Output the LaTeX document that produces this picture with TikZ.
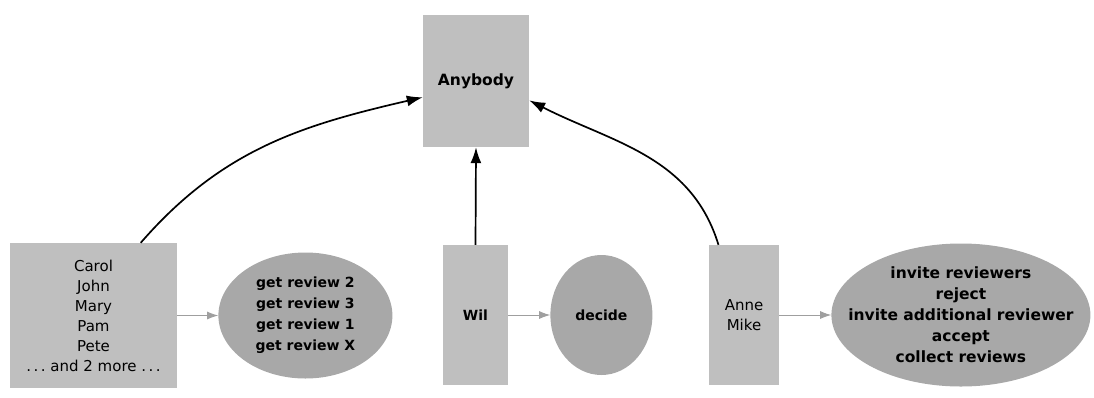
\documentclass[tikz,border=0pt]{standalone}
\usepackage{fontspec}
\setmainfont{DejaVu Sans}
\usepackage{tikz}
\usetikzlibrary{positioning, shapes.geometric, arrows.meta}

\begin{document}
\begin{tikzpicture}[x=1pt, y=-1pt,
            role/.style={rectangle, fill=gray!50, inner sep=0pt, align=center, font=\fontsize{15}{20}\selectfont},
            task/.style={ellipse, fill=gray!68, inner sep=0pt, align=center, font=\fontsize{14}{21}\selectfont\bfseries},
            link/.style={line width=1.7pt, -{Latex[length=16pt,width=11pt]}},
            flow/.style={gray!75, line width=0.9pt, -{Latex[length=11pt,width=8pt]}}
        ]
        \useasboundingbox (0,0) rectangle (1094,397);

        % Rollen
        \node[role, minimum width=106pt, minimum height=132pt, font=\fontsize{15.5}{20}\selectfont\bfseries] (anybody) at (476,81) {Anybody};
        \node[role, minimum width=167pt, minimum height=145pt] (group) at (93.5,315.5) {Carol\\John\\Mary\\Pam\\Pete\\.\,.\,.\ and 2 more .\,.\,.};
        \node[role, minimum width=65pt, minimum height=140pt, font=\fontsize{14}{20}\selectfont\bfseries] (wil) at (475.5,315) {Wil};
        \node[role, minimum width=70pt, minimum height=140pt] (anne) at (744,315) {Anne\\Mike};

        % Aufgaben
        \node[task, minimum width=174pt, minimum height=126pt, right=41pt of group] (reviews) {get review 2\\get review 3\\get review 1\\get review X};
        \node[task, minimum width=102pt, minimum height=120pt, right=42pt of wil] (decide) {decide};
        \node[task, minimum width=259pt, minimum height=143pt, inner xsep=-30pt, font=\fontsize{15.5}{21}\selectfont\bfseries, right=52pt of anne] (editor) {invite reviewers\\reject\\invite additional reviewer\\accept\\collect reviews};

        % Kanten
        \draw[link] (group.57) to[out=49, in=193] (anybody.197);
        \draw[link] (wil.north) -- (anybody.south);
        \draw[link] (anne.110) to[out=107, in=-27] (anybody.-20);
        \draw[flow] (group.east) -- (reviews.west);
        \draw[flow] (wil.east) -- (decide.west);
        \draw[flow] (anne.east) -- (editor.west);

    \end{tikzpicture}
\end{document}
